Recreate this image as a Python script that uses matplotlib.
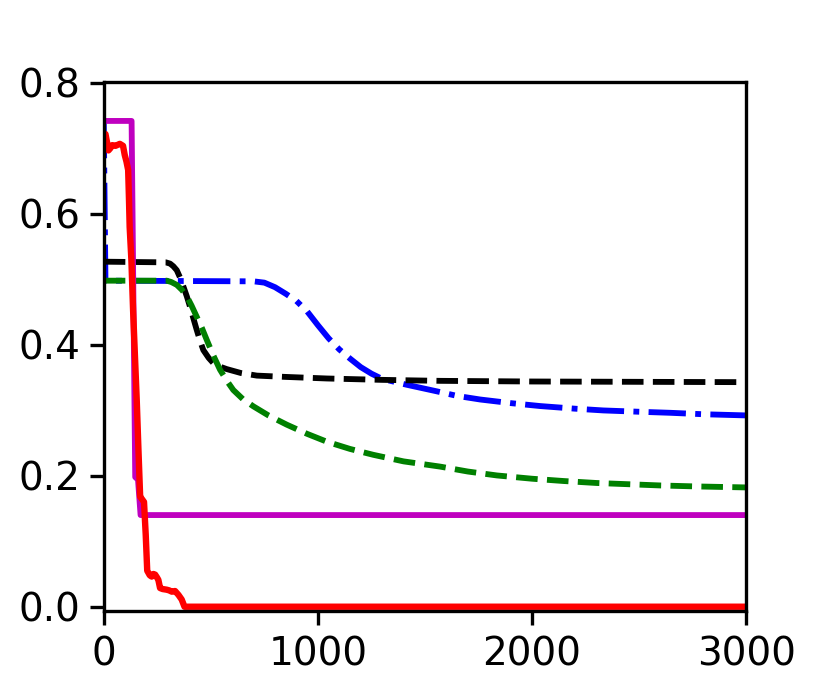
import matplotlib
matplotlib.use("Agg")
import matplotlib.pyplot as plt

# ---- data ----
magenta_x = [0, 130, 147, 160, 172, 3000]
magenta_y = [0.742, 0.742, 0.198, 0.194, 0.140, 0.140]

red_x = [0, 8, 15, 22, 30, 40, 55, 75, 90, 98, 106, 114, 118, 121, 129, 137, 154, 162,
         170, 177, 188, 196, 203, 215, 224, 232, 240, 248, 255, 263, 275, 294, 305,
         318, 333, 349, 364, 377, 3000]
red_y = [0.718, 0.722, 0.71, 0.697, 0.70, 0.705, 0.704, 0.707, 0.704, 0.69, 0.68, 0.667,
         0.62, 0.58, 0.53, 0.453, 0.316, 0.24, 0.168, 0.165, 0.16, 0.11, 0.055, 0.048,
         0.046, 0.05, 0.049, 0.045, 0.041, 0.0285, 0.027, 0.026, 0.025, 0.023, 0.024,
         0.018, 0.011, 0.0, 0.0]

black_x = [0, 290, 310, 325, 341, 356, 372, 388, 403, 419, 434, 450, 465, 490, 512, 540,
           574, 640, 715, 850, 1042, 1300, 1571, 2000, 2500, 3000]
black_y = [0.527, 0.526, 0.524, 0.520, 0.514, 0.503, 0.489, 0.474, 0.458, 0.440, 0.423,
           0.406, 0.392, 0.380, 0.372, 0.367, 0.363, 0.357, 0.353, 0.351, 0.3486, 0.3465,
           0.345, 0.344, 0.3435, 0.343]

green_x = [0, 294, 315, 341, 365, 388, 410, 434, 458, 481, 510, 543, 575, 605, 650, 699,
           770, 855, 950, 1042, 1150, 1259, 1400, 1571, 1700, 1836, 2000, 2147, 2300,
           2458, 2600, 2770, 3000]
green_y = [0.498, 0.498, 0.496, 0.4916, 0.484, 0.474, 0.460, 0.443, 0.426, 0.4076, 0.385,
           0.362, 0.345, 0.331, 0.317, 0.306, 0.292, 0.278, 0.264, 0.252, 0.241, 0.232,
           0.222, 0.214, 0.2065, 0.2005, 0.1955, 0.192, 0.189, 0.187, 0.1852, 0.1837,
           0.1822]

blue_x = [0, 8, 700, 750, 800, 850, 900, 950, 1000, 1050, 1100, 1150, 1200, 1250, 1300,
          1415, 1555, 1650, 1758, 1900, 2038, 2200, 2333, 2500, 2645, 2800, 3000]
blue_y = [0.742, 0.498, 0.497, 0.495, 0.488, 0.478, 0.467, 0.451, 0.430, 0.410, 0.393,
          0.379, 0.366, 0.356, 0.348, 0.339, 0.329, 0.322, 0.3165, 0.311, 0.3065, 0.3025,
          0.2998, 0.2978, 0.2962, 0.294, 0.2922]

xticks = [0, 1000, 2000, 3000]
yticks = [0.0, 0.2, 0.4, 0.6, 0.8]

plt.rcParams['font.family'] = ['DejaVu Sans']
plt.rcParams['axes.linewidth'] = 1.2

fig = plt.figure(figsize=(4.15, 3.435), dpi=200)
ax = fig.add_subplot(111)
fig.subplots_adjust(left=0.125, right=0.899, top=0.88, bottom=0.11)

ax.plot(blue_x, blue_y, color='b', linestyle='-.', linewidth=2.1)
ax.plot(black_x, black_y, color='k', linestyle='--', linewidth=2.1)
ax.plot(green_x, green_y, color='g', linestyle='--', linewidth=2.1)
ax.plot(magenta_x, magenta_y, color='m', linestyle='-', linewidth=2.1)
ax.plot(red_x, red_y, color='r', linestyle='-', linewidth=2.3)

ax.set_xlim(0, 3000)
ax.set_ylim(-0.0072, 0.8008)
ax.set_xticks(xticks)
ax.set_yticks(yticks)
ax.set_yticklabels([f"{t:.1f}" for t in yticks])
ax.tick_params(labelsize=14, length=5, width=1.2)

fig.savefig("out.png", dpi=200)
